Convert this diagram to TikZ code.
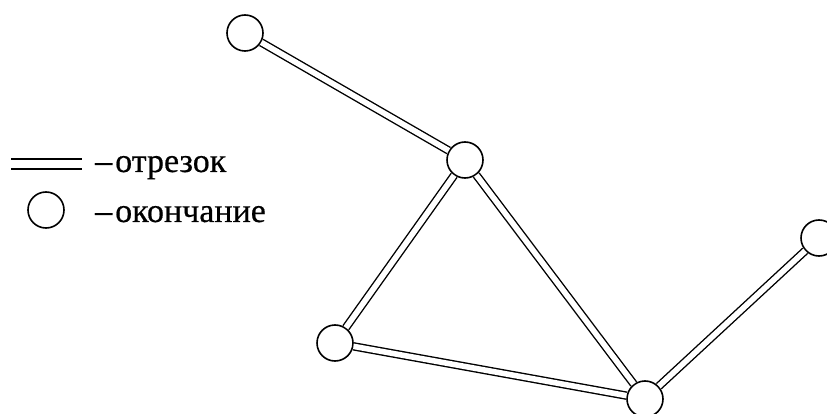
\documentclass[tikz,border=0pt]{standalone}
\usepackage{fontspec}
\setmainfont{Liberation Serif}
\newfontfamily\lblfont[FakeBold=0.5]{Liberation Serif}
\begin{document}
\begin{tikzpicture}[x=1pt,y=-1pt,
  endpt/.style={circle,draw,fill=white,line width=1.6pt,minimum size=36pt,inner sep=0pt},
  seg/.style={double,line width=1.4pt,double distance=5.6pt},
  legseg/.style={double,line width=1.4pt,double distance=8.6pt},
  lbl/.style={anchor=base west,inner sep=0pt,font=\lblfont\fontsize{34}{36}\selectfont}]
\useasboundingbox (0,0) rectangle (827,414);
% nodes
\node[endpt] (a) at (245,33) {};
\node[endpt] (b) at (465,160) {};
\node[endpt] (c) at (819,238) {};
\node[endpt] (d) at (335,343) {};
\node[endpt] (e) at (645,399) {};
% segments
\draw[seg] (a) -- (b);
\draw[seg] (b) -- (d);
\draw[seg] (b) -- (e);
\draw[seg] (d) -- (e);
\draw[seg] (e) -- (c);
% legend
\coordinate (l1) at (11,164);
\coordinate (l2) at (82,164);
\draw[legseg] (l1) -- (l2);
\node[lbl] (t1) at (95,172) {–\kern3pt отрезок};
\node[endpt] (lc) at (46,210) {};
\node[lbl] (t2) at (95,222) {–\kern3pt окончание};
\end{tikzpicture}
\end{document}
